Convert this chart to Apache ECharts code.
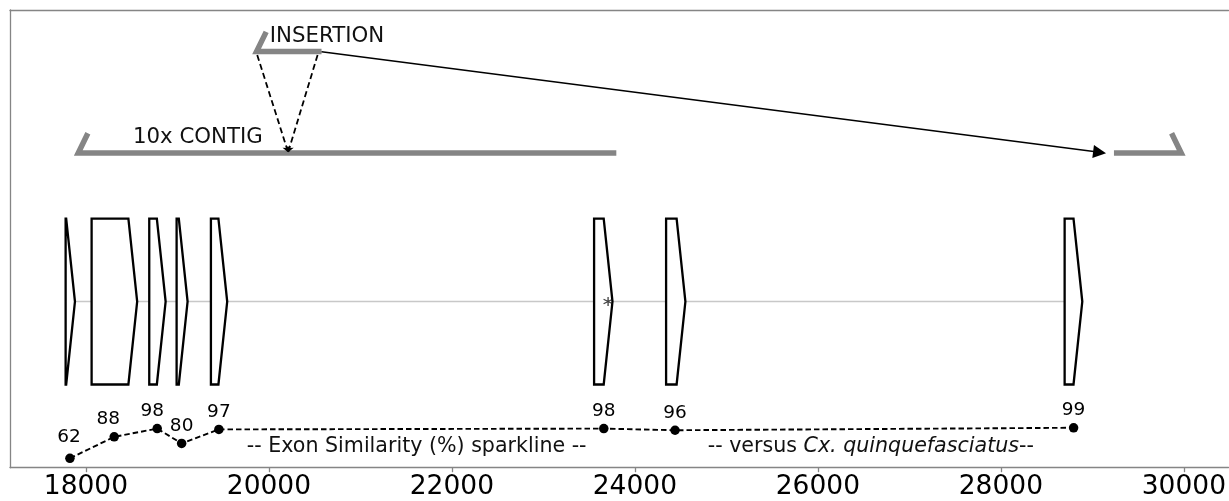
<!DOCTYPE html>
<html><head><meta charset="utf-8">
<script src="https://cdn.jsdelivr.net/npm/echarts@6/dist/echarts.min.js"></script>
<style>html,body{margin:0;padding:0;background:#fff}#c{width:1229px;height:501px}</style>
</head><body><div id="c"></div>
<script>
// ---- data (genomic coordinates, bp) ----
const xTicks = [18000, 20000, 22000, 24000, 26000, 28000, 30000];
const exonStart = [17778, 18062, 18692, 18991, 19366, 23554, 24341, 28697];
const exonEnd   = [17880, 18560, 18871, 19111, 19544, 23755, 24552, 28890];
const simPos = [17825, 18309, 18779, 19046, 19453, 23660, 24439, 28795];
const simPct = [62, 88, 98, 80, 97, 98, 96, 99];
const contigLeft = [17916, 23797];
const contigRight = [29236, 29971];
const insertion = [19865, 20575];
const insertionSite = 20210;
const insertionEdges = [19872, 20532];
const arrowTarget = 29079;
const stopPos = 23707;
const noteTexts = ['INSERTION', '10x CONTIG', '-- Exon Similarity (%) sparkline --', '-- versus {i|Cx. quinquefasciatus}--'];
const notePos = [20010, 18514, 19759, 24796];

// ---- layout / style (track levels on a 0-100 vertical scale) ----
const L = {exon: 36.31, exonH: 18.13, contig: 68.76, ins: 90.93, hook: 4.3, hookDx: 105,
  vTop: 90.17, vBot: 68.91, arrowStart: 90.89, arrowEnd: 68.91};
const noteY = [94.2, 72.1, 4.6, 4.6];
const headLen = 96;
const labelShift = [[-1, -4], [-6, 0], [-5, 0], [0, 0], [0, 0], [0, 0], [0, 0], [0, 0]];
const FONT = '"DejaVu Sans", sans-serif';
const GRAY = '#858585';

const chart = echarts.init(document.getElementById('c'), null, {renderer: 'canvas'});

const barStyle = {color: GRAY, width: 5.5, join: 'miter', cap: 'butt'};
function poly(pts, z) {
  return {type: 'line', data: pts, symbol: 'none', silent: true, animation: false, lineStyle: barStyle, z: z || 3};
}

const option = {
  animation: false,
  backgroundColor: '#fff',
  grid: {left: 10, top: 10, bottom: 33.3, right: 0, show: false},
  xAxis: [{
    type: 'value', min: 17170, max: 30489,
    splitLine: {show: false},
    axisLine: {show: true, lineStyle: {color: GRAY, width: 1.3}},
    axisTick: {show: true, customValues: xTicks, length: 4.5, lineStyle: {color: GRAY, width: 1.3}},
    axisLabel: {customValues: xTicks, fontSize: 26.5, fontFamily: FONT, color: '#000', margin: 6,
      formatter: v => String(v)}
  }, {
    type: 'value', position: 'top', min: 17170, max: 30489,
    splitLine: {show: false}, axisTick: {show: false}, axisLabel: {show: false},
    axisLine: {show: true, onZero: false, lineStyle: {color: GRAY, width: 1.3}}
  }],
  yAxis: [
    {type: 'value', min: 0, max: 100, splitLine: {show: false}, axisTick: {show: false}, axisLabel: {show: false},
      axisLine: {show: true, onZero: false, lineStyle: {color: GRAY, width: 1.3}}},
    {type: 'value', min: 50.6, max: 605.4, show: false}
  ],
  series: [
    {type: 'line', data: [[exonStart[0], L.exon], [exonStart[exonStart.length - 1], L.exon]], symbol: 'none',
      lineStyle: {color: '#c8c8c8', width: 1.5}, z: 1, silent: true},
    {type: 'custom', z: 2, silent: true,
      data: exonStart.map((s, i) => [s, exonEnd[i]]),
      renderItem: function (params, api) {
        const s = api.value(0), e = api.value(1);
        const r = Math.max(s, e - headLen);
        const p = [
          api.coord([s, L.exon + L.exonH]), api.coord([r, L.exon + L.exonH]),
          api.coord([e, L.exon]), api.coord([r, L.exon - L.exonH]), api.coord([s, L.exon - L.exonH])
        ];
        return {type: 'polygon', shape: {points: p}, style: {fill: '#fff', stroke: '#000', lineWidth: 2.3, lineJoin: 'miter'}};
      }
    },
    {type: 'scatter', data: [[stopPos, L.exon]], z: 4, silent: true,
      symbol: 'path://M0,-10L0,10M-8.7,-5L8.7,5M-8.7,5L8.7,-5', symbolSize: [9, 9],
      itemStyle: {color: 'none', borderColor: '#111', borderWidth: 1.3}},
    poly([[contigLeft[0] + L.hookDx, L.contig + L.hook], [contigLeft[0], L.contig], [contigLeft[1], L.contig]]),
    poly([[contigRight[0], L.contig], [contigRight[1], L.contig], [contigRight[1] - L.hookDx, L.contig + L.hook]]),
    poly([[insertion[0] + L.hookDx, L.ins + L.hook], [insertion[0], L.ins], [insertion[1], L.ins]]),
    {type: 'lines', coordinateSystem: 'cartesian2d', silent: true, z: 4,
      symbol: ['none', 'arrow'], symbolSize: 6,
      lineStyle: {color: '#000', width: 1.8, type: [6, 3.5], opacity: 1, curveness: 0},
      data: [
        {coords: [[insertionEdges[0], L.vTop], [insertionSite, L.vBot]]},
        {coords: [[insertionEdges[1], L.vTop], [insertionSite, L.vBot]]}
      ]},
    {type: 'lines', coordinateSystem: 'cartesian2d', silent: true, z: 4,
      symbol: ['none', 'triangle'], symbolSize: 13,
      lineStyle: {color: '#000', width: 1.5, opacity: 1, curveness: 0},
      data: [{coords: [[insertion[1], L.arrowStart], [arrowTarget, L.arrowEnd]]}]},
    {type: 'line', yAxisIndex: 1, z: 5, silent: true,
      data: simPos.map((x, i) => ({value: [x, simPct[i]], label: {offset: labelShift[i]}})),
      symbol: 'circle', symbolSize: 9.5, itemStyle: {color: '#000'},
      lineStyle: {color: '#000', width: 1.9, type: [5.5, 3]},
      label: {show: true, position: 'top', distance: 3, fontSize: 18.5, fontFamily: FONT, color: '#000',
        formatter: p => String(p.value[1])}},
    {type: 'custom', z: 6, silent: true,
      data: notePos.map((x, i) => [x, noteY[i], i]),
      renderItem: function (params, api) {
        const i = api.value(2);
        const pt = api.coord([api.value(0), api.value(1)]);
        const fs = i < 2 ? 21.3 : 20.6;
        return {type: 'text', x: pt[0], y: pt[1], style: {
          text: noteTexts[i], fill: '#111', font: fs + 'px ' + FONT, align: 'left', verticalAlign: 'middle',
          rich: {i: {fontStyle: 'italic', fontSize: fs, fontFamily: 'DejaVu Sans', fill: '#111'}}
        }};
      }
    }
  ]
};
chart.setOption(option);
</script></body></html>
